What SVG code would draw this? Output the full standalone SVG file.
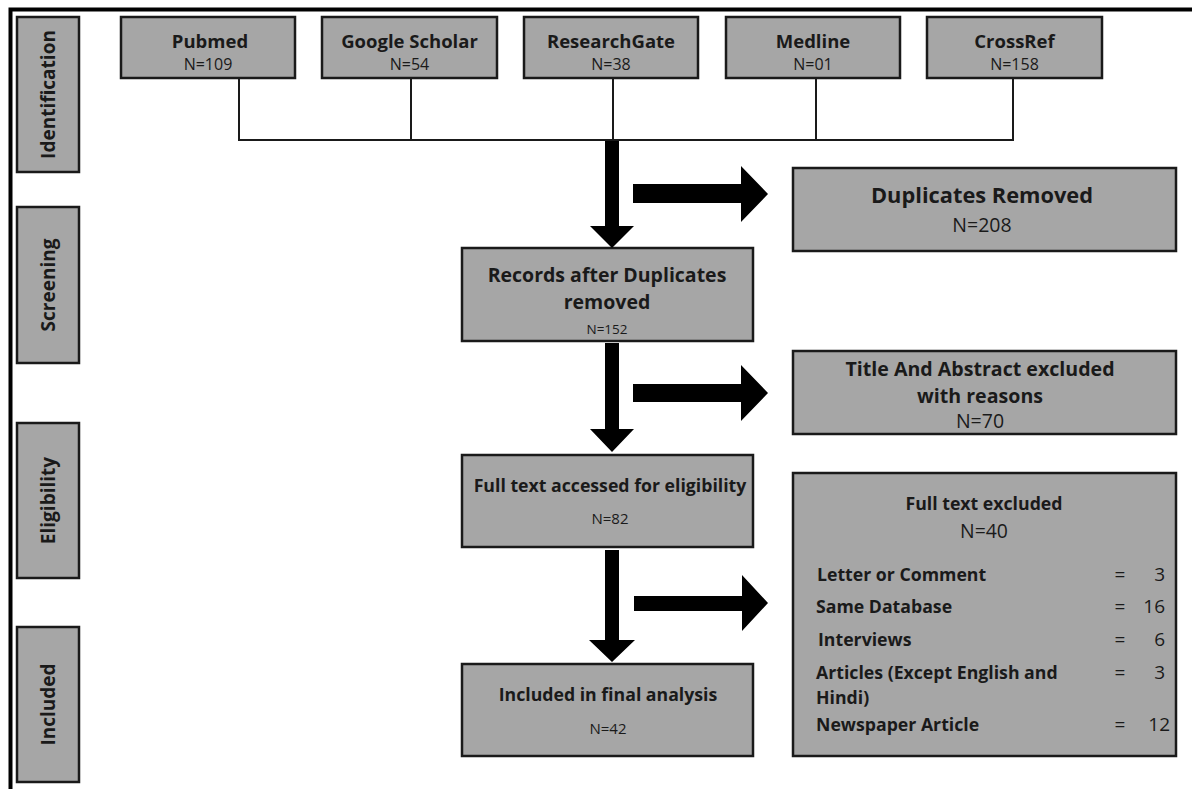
<svg xmlns="http://www.w3.org/2000/svg" width="1192" height="789" viewBox="0 0 1192 789">
<style>
.box{fill:#a6a6a6;stroke:#1a1a1a;stroke-width:2.5}
.t{font-family:"Open Sans","Liberation Sans",sans-serif;fill:#1a1a1a;text-anchor:middle}
.b{font-weight:bold}
.n{font-weight:normal}
.side{font-family:"Open Sans","Liberation Sans",sans-serif;font-weight:bold;font-size:19px;fill:#1a1a1a;text-anchor:middle}
.l{font-family:"Open Sans","Liberation Sans",sans-serif;font-weight:bold;font-size:17.7px;fill:#1a1a1a}
.v{font-family:"Open Sans","Liberation Sans",sans-serif;font-size:19px;fill:#1a1a1a}
.thin{fill:none;stroke:#1a1a1a;stroke-width:2}
.arr{fill:#000}
</style>
<rect width="1192" height="789" fill="#fff"/>
<path d="M10.5,789 V9.5 H1192" fill="none" stroke="#000" stroke-width="4"/>

<g id="side-identification"><rect class="box" x="17" y="17" width="62" height="155"/><text class="side" transform="translate(55,94.5) rotate(-90)">Identification</text></g>
<g id="side-screening"><rect class="box" x="17" y="207" width="62" height="156"/><text class="side" transform="translate(55,285) rotate(-90)">Screening</text></g>
<g id="side-eligibility"><rect class="box" x="17" y="423" width="62" height="155"/><text class="side" transform="translate(55,500.5) rotate(-90)">Eligibility</text></g>
<g id="side-included"><rect class="box" x="17" y="627" width="62" height="155"/><text class="side" transform="translate(55,704.5) rotate(-90)">Included</text></g>

<g id="pubmed"><rect class="box" x="121" y="17" width="174" height="61"/><text class="t b" x="210" y="48" font-size="18.5">Pubmed</text><text class="t n" x="208" y="70" font-size="16">N=109</text></g>
<g id="google-scholar"><rect class="box" x="322" y="17" width="175" height="61"/><text class="t b" x="409.5" y="48" font-size="18.5">Google Scholar</text><text class="t n" x="409.5" y="70" font-size="16">N=54</text></g>
<g id="researchgate"><rect class="box" x="524" y="17" width="174" height="61"/><text class="t b" x="611" y="48" font-size="18.5">ResearchGate</text><text class="t n" x="611" y="70" font-size="16">N=38</text></g>
<g id="medline"><rect class="box" x="726" y="17" width="174" height="61"/><text class="t b" x="813" y="48" font-size="18.5">Medline</text><text class="t n" x="813" y="70" font-size="16">N=01</text></g>
<g id="crossref"><rect class="box" x="927" y="17" width="175" height="61"/><text class="t b" x="1014.5" y="48" font-size="18.5">CrossRef</text><text class="t n" x="1014.5" y="70" font-size="16">N=158</text></g>

<g id="duplicates-removed"><rect class="box" x="793" y="168" width="383" height="83"/><text class="t b" x="982" y="203" font-size="21.8">Duplicates Removed</text><text class="t n" x="982" y="232" font-size="19.5">N=208</text></g>
<g id="records-after"><rect class="box" x="462" y="248" width="291" height="93"/><text class="t b" x="607" y="282" font-size="19.5">Records after Duplicates</text><text class="t b" x="607" y="309" font-size="19.5">removed</text><text class="t n" x="607" y="334" font-size="13.5">N=152</text></g>
<g id="title-abstract"><rect class="box" x="793" y="351" width="383" height="83"/><text class="t b" x="980" y="376" font-size="19.6">Title And Abstract excluded</text><text class="t b" x="980" y="403" font-size="19.6">with reasons</text><text class="t n" x="980" y="428" font-size="19.5">N=70</text></g>
<g id="full-text-accessed"><rect class="box" x="462" y="455" width="291" height="92"/><text class="t b" x="610" y="492" font-size="17.7">Full text accessed for eligibility</text><text class="t n" x="610" y="524" font-size="15">N=82</text></g>
<g id="included-final"><rect class="box" x="462" y="664" width="291" height="92"/><text class="t b" x="608" y="701" font-size="17.7">Included in final analysis</text><text class="t n" x="608" y="734" font-size="15">N=42</text></g>
<g id="full-text-excluded"><rect class="box" x="793" y="473" width="383" height="283"/>
<text class="t b" x="984" y="510" font-size="17.7">Full text excluded</text><text class="t n" x="984" y="538" font-size="19.4">N=40</text>
<text class="l" x="817" y="581">Letter or Comment</text><text class="v" x="1120" y="581" text-anchor="middle">=</text><text class="v" x="1165" y="581" text-anchor="end">3</text>
<text class="l" x="816" y="613">Same Database</text><text class="v" x="1120" y="613" text-anchor="middle">=</text><text class="v" x="1165" y="613" text-anchor="end">16</text>
<text class="l" x="818" y="646">Interviews</text><text class="v" x="1120" y="646" text-anchor="middle">=</text><text class="v" x="1165" y="646" text-anchor="end">6</text>
<text class="l" x="816" y="679">Articles (Except English and</text><text class="l" x="816" y="704">Hindi)</text><text class="v" x="1120" y="679" text-anchor="middle">=</text><text class="v" x="1165" y="679" text-anchor="end">3</text>
<text class="l" x="816" y="731">Newspaper Article</text><text class="v" x="1120" y="731" text-anchor="middle">=</text><text class="v" x="1170" y="731" text-anchor="end">12</text>
</g>

<g id="connectors">
<path class="thin" d="M239,78 V140 M411,78 V140 M613,78 V140 M816,78 V140 M1013,78 V140 M238,140 H1014"/>
<path class="arr" d="M605,141 H619 V226 H634 L612,248 L590,226 H605 Z"/>
<path class="arr" d="M605,343 H619 V429 H634 L612,452 L590,429 H605 Z"/>
<path class="arr" d="M605,550 H619 V640 H635 L612,662 L589,640 H605 Z"/>
<path class="arr" d="M633,184 H741 V166 L768,194 L741,222 V203 H633 Z"/>
<path class="arr" d="M633,384 H741 V365 L768,393 L741,421 V402 H633 Z"/>
<path class="arr" d="M634,596 H742 V575 L768,603 L742,631 V611 H634 Z"/>
</g>
</svg>
